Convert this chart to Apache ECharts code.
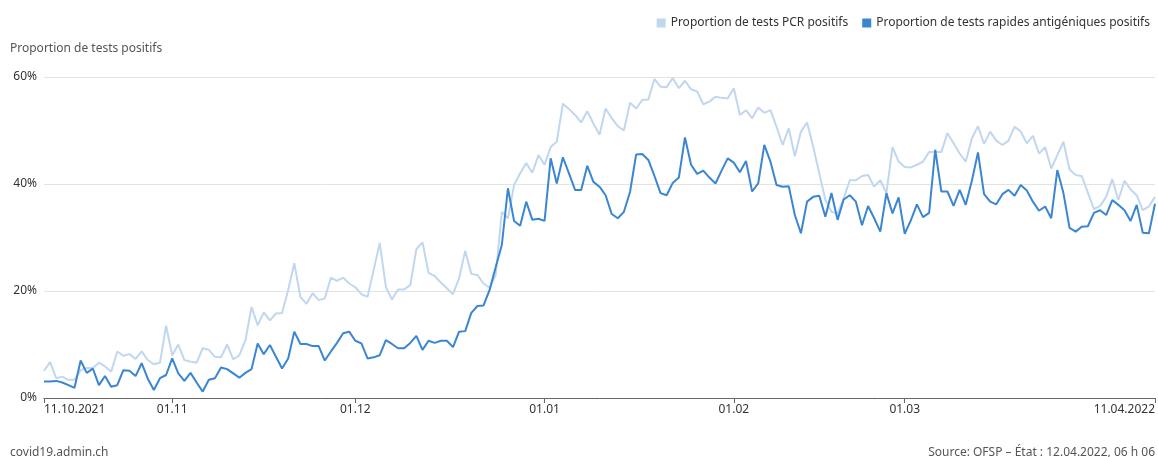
<!DOCTYPE html>
<html><head><meta charset="utf-8">
<script src="https://cdn.jsdelivr.net/npm/echarts@6/dist/echarts.min.js"></script>
<style>html,body{margin:0;padding:0;background:#fff}#c{width:1158px;height:457px}</style>
</head><body><div id="c"></div>
<script>
// Daily share of positive tests (%), 11.10.2021 – 11.04.2022
const pcrPositive = [
5.1,6.7,3.7,4.0,3.4,3.4,5.2,5.6,5.6,6.6,5.9,4.9,8.7,7.9,8.2,7.3,8.7,7.1,6.3,6.6,
13.5,8.0,10.0,7.1,6.8,6.6,9.3,9.0,7.7,7.6,10.0,7.2,8.0,10.8,17.0,13.6,16.0,14.5,15.8,15.9,
20.2,25.2,18.9,17.6,19.6,18.3,18.6,22.5,21.9,22.5,21.4,20.7,19.4,18.9,23.9,29.0,20.8,18.4,20.3,20.3,
21.1,27.8,29.1,23.4,22.8,21.6,20.5,19.4,22.4,27.5,23.2,23.0,21.4,20.6,23.0,34.8,33.6,39.8,42.0,43.9,
42.1,45.4,43.6,46.9,47.9,55.0,54.0,52.9,51.5,53.6,51.3,49.2,54.1,52.3,50.8,50.0,55.2,54.1,55.7,55.8,
59.6,58.2,58.1,59.8,57.9,59.3,57.7,57.3,54.9,55.4,56.3,56.1,56.0,57.9,52.9,53.8,52.3,54.3,53.3,53.8,
50.7,47.3,50.4,45.2,49.8,51.5,47.0,42.0,37.0,34.8,34.5,37.3,40.7,40.7,41.5,41.7,39.5,40.7,38.3,46.9,
44.2,43.2,43.1,43.6,44.2,46.0,46.0,46.0,49.5,47.6,45.7,44.2,48.5,50.8,47.5,49.8,48.1,47.3,48.1,50.7,
49.8,47.6,49.0,45.7,46.9,42.9,45.4,47.9,42.7,41.7,41.5,38.4,35.3,35.9,37.6,40.9,37.0,40.6,39.0,37.9,
35.1,35.8,37.6
];
const antigenPositive = [
3.1,3.1,3.2,2.9,2.4,1.9,7.0,4.7,5.5,2.4,4.1,2.1,2.4,5.2,5.1,4.1,6.5,3.6,1.5,3.7,
4.3,7.4,4.6,3.2,4.7,2.9,1.2,3.4,3.7,5.7,5.4,4.6,3.8,4.7,5.4,10.2,8.2,9.9,7.7,5.5,
7.4,12.4,10.1,10.1,9.7,9.7,7.0,8.7,10.3,12.1,12.4,10.7,10.2,7.4,7.6,8.0,10.8,10.1,9.3,9.3,
10.3,11.6,9.0,10.7,10.3,10.7,10.7,9.5,12.4,12.5,15.9,17.2,17.3,20.2,24.5,28.6,39.2,33.1,32.2,36.7,
33.3,33.5,33.1,44.8,40.1,45.0,42.0,38.9,38.9,43.4,40.4,39.5,37.9,34.4,33.6,34.8,38.5,45.5,45.6,44.5,
41.5,38.3,37.9,40.2,41.2,48.7,43.6,41.9,42.5,41.2,40.1,42.5,44.8,44.0,42.2,44.3,38.6,40.1,47.3,44.2,
39.8,39.5,39.6,34.2,30.8,36.7,37.6,37.8,33.9,38.3,33.3,37.1,37.9,36.7,32.3,35.9,33.6,31.1,38.3,34.5,
37.5,30.7,33.2,36.2,33.8,34.6,46.4,38.6,38.6,35.9,38.9,36.1,40.6,45.9,38.1,36.7,36.2,38.1,38.9,37.8,
39.8,38.8,36.7,35.0,35.8,33.6,42.6,38.3,31.8,31.1,32.0,32.1,34.6,35.1,34.2,37.0,36.1,35.1,33.1,36.1,
30.9,30.8,36.3
];
const tickIndex = [0, 21, 51, 82, 113, 141, 182];
const tickLabels = ['11.10.2021', '01.11', '01.12', '01.01', '01.02', '01.03', '11.04.2022'];
const yTicks = [0, 20, 40, 60];
const seriesNames = ['Proportion de tests PCR positifs', 'Proportion de tests rapides antigéniques positifs'];

const pad = n => (n < 10 ? '0' : '') + n;
const categories = [];
for (let i = 0; i < pcrPositive.length; i++) {
  const d = new Date(2021, 9, 11 + i);
  categories.push(pad(d.getDate()) + '.' + pad(d.getMonth() + 1) + '.' + d.getFullYear());
}

const FONT = '"Noto Sans", "Open Sans", sans-serif';
const chart = echarts.init(document.getElementById('c'), null, {renderer: 'canvas'});
chart.setOption({
  animation: false,
  backgroundColor: '#fff',
  textStyle: {fontFamily: FONT},
  grid: {left: 44, right: 3, top: 77, bottom: 59, containLabel: false},
  legend: {
    right: 3, top: 12, icon: 'rect', itemWidth: 9, itemHeight: 9, itemGap: 14,
    textStyle: {fontFamily: FONT, fontSize: 12, color: '#333'},
    data: seriesNames
  },
  graphic: [
    {type: 'text', left: 10, top: 43, style: {text: 'Proportion de tests positifs', font: '12px ' + FONT, fill: '#555'}},
    {type: 'text', left: 10, top: 447, style: {text: 'covid19.admin.ch', font: '12px ' + FONT, fill: '#555'}},
    {type: 'text', right: 3, top: 447, style: {text: 'Source: OFSP – État : 12.04.2022, 06 h 06', font: '12px ' + FONT, fill: '#555'}}
  ],
  xAxis: {
    type: 'category', data: categories, boundaryGap: false,
    axisLine: {lineStyle: {color: '#666', width: 1}},
    axisTick: {show: true, length: 5, lineStyle: {color: '#666'}, interval: idx => tickIndex.includes(idx)},
    axisLabel: {
      interval: idx => tickIndex.includes(idx),
      formatter: (v, idx) => { const k = tickIndex.indexOf(idx); return k >= 0 ? tickLabels[k] : ''; },
      fontFamily: FONT, fontSize: 12, color: '#333', margin: 6,
      alignMinLabel: 'left', alignMaxLabel: 'right'
    },
    splitLine: {show: false}
  },
  yAxis: {
    type: 'value', min: yTicks[0], max: yTicks[yTicks.length - 1], interval: 20,
    axisLine: {show: false}, axisTick: {show: false},
    axisLabel: {formatter: '{value}%', fontFamily: FONT, fontSize: 12, color: '#333', margin: 7},
    splitLine: {lineStyle: {color: '#e3e3e3', width: 1}}
  },
  series: [
    {name: seriesNames[0], type: 'line', data: pcrPositive, symbol: 'none',
     lineStyle: {color: '#c0d7ef', width: 2}, itemStyle: {color: '#c0d7ef'}, z: 2},
    {name: seriesNames[1], type: 'line', data: antigenPositive, symbol: 'none',
     lineStyle: {color: '#3a86d0', width: 2}, itemStyle: {color: '#3a86d0'}, z: 3}
  ]
});
</script>
</body></html>
